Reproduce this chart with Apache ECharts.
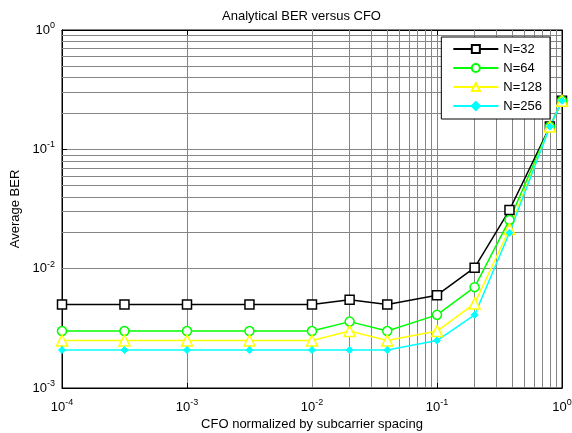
<!DOCTYPE html>
<html>
<head>
<meta charset="utf-8">
<script src="https://cdn.jsdelivr.net/npm/echarts@6/dist/echarts.min.js"></script>
<style>
  html, body { margin: 0; padding: 0; background: #fff; }
  #chart { width: 572px; height: 433px; }
</style>
</head>
<body>
<div id="chart"></div>
<script>
// CFO values (normalized by subcarrier spacing)
const cfo = [1e-4, 3.16e-4, 1e-3, 3.16e-3, 1e-2, 0.02, 0.04, 0.1, 0.2, 0.38, 0.8, 1.0];

// Average BER for each FFT size
const ber32  = [0.005, 0.005, 0.005, 0.005, 0.005, 0.0055, 0.005, 0.006, 0.0102, 0.031, 0.155, 0.255];
const ber64  = [0.003, 0.003, 0.003, 0.003, 0.003, 0.0036, 0.003, 0.0041, 0.007, 0.0256, 0.155, 0.255];
const ber128 = [0.0025, 0.0025, 0.0025, 0.0025, 0.0025, 0.003, 0.0025, 0.003, 0.0051, 0.0215, 0.155, 0.255];
const ber256 = [0.00208, 0.00208, 0.00208, 0.00208, 0.00208, 0.00208, 0.00208, 0.0025, 0.0041, 0.02, 0.155, 0.255];

const seriesNames = ['N=32', 'N=64', 'N=128', 'N=256'];

// Minor grid positions (2..9 in every decade)
const xMinor = [];
for (let e = -4; e < 0; e++) for (let m = 2; m <= 9; m++) xMinor.push(m * Math.pow(10, e));
const yMinor = [];
for (let e = -3; e < 0; e++) for (let m = 2; m <= 9; m++) yMinor.push(m * Math.pow(10, e));

const gridColor = '#858585';
const font = 'Liberation Sans, Arial, sans-serif';

function pow10Label(v) {
  const e = Math.round(Math.log10(v));
  return '{b|10}{s|' + e + '}';
}
const richLabel = {
  b: { fontSize: 13, fontFamily: font, color: '#000' },
  s: { fontSize: 9, fontFamily: font, color: '#000', padding: [0, 0, 9, 0] }
};

function pairs(ys) { return cfo.map((x, i) => [x, ys[i]]); }

const chart = echarts.init(document.getElementById('chart'), null, { renderer: 'canvas' });

const axisCommon = {
  type: 'log',
  logBase: 10,
  axisLine: { show: true, lineStyle: { color: '#000', width: 1 } },
  axisTick: { show: true, inside: true, length: 5, lineStyle: { color: '#000' } },
  splitLine: { show: true, lineStyle: { color: gridColor, width: 1 } },
  minorTick: { show: false },
  minorSplitLine: { show: false }
};

chart.setOption({
  animation: false,
  backgroundColor: '#fff',
  title: {
    text: 'Analytical BER versus CFO',
    left: 217,
    top: 5,
    textStyle: { fontSize: 13, fontWeight: 'normal', fontFamily: font, color: '#000' }
  },
  grid: { left: 62, top: 30, right: 10, bottom: 45, containLabel: false,
          outerBoundsMode: 'none',
          show: true, borderColor: '#000', borderWidth: 1, backgroundColor: '#fff' },
  legend: {
    data: seriesNames,
    orient: 'vertical',
    right: 22,
    top: 37,
    z: 10,
    backgroundColor: '#fff',
    borderColor: '#000',
    borderWidth: 1,
    borderRadius: 0,
    padding: [5, 8, 6, 11],
    itemWidth: 45,
    itemHeight: 10,
    itemGap: 5,
    textStyle: { fontSize: 13, lineHeight: 14, fontFamily: font, color: '#000' }
  },
  xAxis: [
    Object.assign({}, axisCommon, {
      min: 1e-4, max: 1,
      name: 'CFO normalized by subcarrier spacing',
      nameLocation: 'middle',
      nameGap: 30,
      nameTextStyle: { fontSize: 13, fontFamily: font, color: '#000' },
      axisLabel: { formatter: pow10Label, rich: richLabel, margin: 10 }
    }),
    Object.assign({}, axisCommon, {
      min: 1e-4, max: 1, position: 'top',
      axisLabel: { show: false }, splitLine: { show: false }
    })
  ],
  yAxis: [
    Object.assign({}, axisCommon, {
      min: 1e-3, max: 1,
      name: 'Average BER',
      nameLocation: 'middle',
      nameGap: 38,
      nameTextStyle: { fontSize: 13, fontFamily: font, color: '#000' },
      axisLabel: { formatter: pow10Label, rich: richLabel, margin: 7 }
    }),
    Object.assign({}, axisCommon, {
      min: 1e-3, max: 1, position: 'right',
      axisLabel: { show: false }, splitLine: { show: false }
    })
  ],
  series: [
    {
      name: 'grid-minor',
      type: 'line',
      data: [],
      silent: true,
      z: 1,
      markLine: {
        silent: true,
        z: 1,
        symbol: 'none',
        label: { show: false },
        lineStyle: { color: gridColor, width: 1, type: 'solid' },
        emphasis: { disabled: true },
        data: xMinor.map(v => ({ xAxis: v })).concat(yMinor.map(v => ({ yAxis: v })))
      }
    },
    {
      name: 'N=32', type: 'line', data: pairs(ber32),
      symbol: 'rect', symbolSize: 9,
      itemStyle: { color: '#fff', borderColor: '#000', borderWidth: 1.5 },
      lineStyle: { color: '#000', width: 1.5 }
    },
    {
      name: 'N=64', type: 'line', data: pairs(ber64),
      symbol: 'circle', symbolSize: 9,
      itemStyle: { color: '#fff', borderColor: '#00ff00', borderWidth: 1.5 },
      lineStyle: { color: '#00ff00', width: 1.5 }
    },
    {
      name: 'N=128', type: 'line', data: pairs(ber128),
      symbol: 'triangle', symbolSize: 11,
      itemStyle: { color: '#fff', borderColor: '#ffff00', borderWidth: 1.5 },
      lineStyle: { color: '#ffff00', width: 1.5 }
    },
    {
      name: 'N=256', type: 'line', data: pairs(ber256),
      symbol: 'diamond', symbolSize: 7,
      itemStyle: { color: '#00ffff', borderColor: '#00ffff', borderWidth: 1 },
      lineStyle: { color: '#00ffff', width: 1.5 }
    }
  ]
});
</script>
</body>
</html>
